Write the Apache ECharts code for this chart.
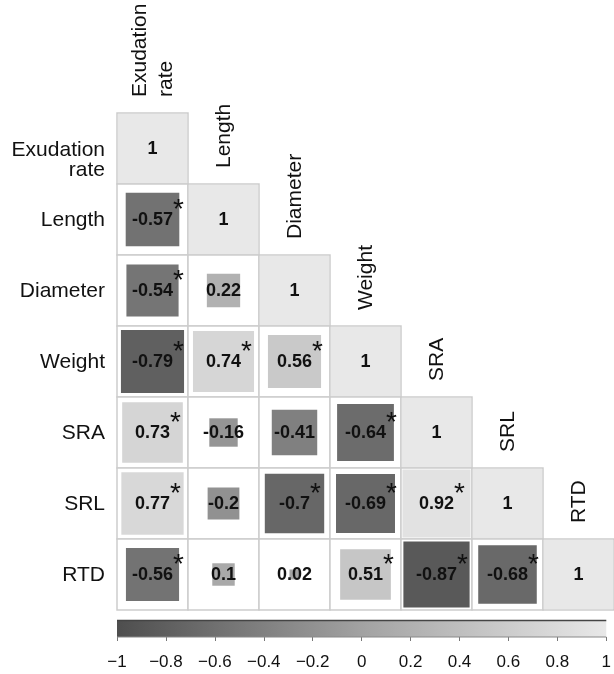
<!DOCTYPE html>
<html>
<head>
<meta charset="utf-8">
<script src="https://cdn.jsdelivr.net/npm/echarts@6/dist/echarts.min.js"></script>
<style>html,body{margin:0;padding:0;background:#fff;}#c{width:614px;height:674px;}</style>
</head>
<body>
<div id="c"></div>
<script>
// ---- data ----
const varNames = ['Exudation\nrate', 'Length', 'Diameter', 'Weight', 'SRA', 'SRL', 'RTD'];
// lower triangle correlations, row i has i+1 values (columns 0..i)
const corrRows = [
  [1],
  [-0.57, 1],
  [-0.54, 0.22, 1],
  [-0.79, 0.74, 0.56, 1],
  [0.73, -0.16, -0.41, -0.64, 1],
  [0.77, -0.2, -0.7, -0.69, 0.92, 1],
  [-0.56, 0.1, 0.02, 0.51, -0.87, -0.68, 1]
];
// significance flags (1 = asterisk)
const sigRows = [
  [0],
  [1, 0],
  [1, 0, 0],
  [1, 1, 1, 0],
  [1, 0, 0, 1, 0],
  [1, 0, 1, 1, 1, 0],
  [1, 0, 0, 1, 1, 1, 0]
];
const colorbarTicks = [-1, -0.8, -0.6, -0.4, -0.2, 0, 0.2, 0.4, 0.6, 0.8, 1];
const scaleColors = ['#4e4e4e', '#a2a2a2', '#e8e8e8'];

// ---- build ----
const cellData = [];
corrRows.forEach((row, i) => row.forEach((r, j) => cellData.push([j, i, r, sigRows[i][j]])));
const diagData = varNames.map((n, k) => [k, k]);
const rowLabelData = varNames.map((n, k) => [0, k]);

const FONT = 'Liberation Sans, Arial, Helvetica, sans-serif';

function fmt(v) { return String(v); }

const chart = echarts.init(document.getElementById('c'), null, { renderer: 'canvas' });
chart.setOption({
  animation: false,
  backgroundColor: '#fff',
  grid: [
    { left: 117, top: 113, width: 497, height: 497 },
    { left: 117, top: 620, width: 497, height: 17 }
  ],
  xAxis: [
    { type: 'category', gridIndex: 0, data: varNames, show: false },
    {
      type: 'value', gridIndex: 1, min: -1, max: 1, interval: 0.2,
      axisLine: { show: false }, splitLine: { show: false },
      axisTick: { show: true, length: 4, lineStyle: { color: '#777', width: 1 } },
      axisLabel: {
        showMinLabel: true, showMaxLabel: true, margin: 17,
        fontSize: 17, color: '#111', fontFamily: FONT,
        formatter: v => { const n = Number(v.toFixed(1)); return n < 0 ? '\u2212' + Math.abs(n) : String(n); }
      }
    }
  ],
  yAxis: [
    { type: 'category', gridIndex: 0, data: varNames, inverse: true, show: false },
    { type: 'value', gridIndex: 1, min: 0, max: 1, show: false }
  ],
  visualMap: {
    show: false, type: 'continuous', min: -1, max: 1, dimension: 2, seriesIndex: 0,
    inRange: { color: scaleColors }
  },
  series: [
    {
      type: 'custom', xAxisIndex: 0, yAxisIndex: 0,
      data: cellData,
      encode: { x: 0, y: 1 },
      renderItem: function (params, api) {
        const c = api.coord([api.value(0), api.value(1)]);
        const s = api.size([1, 1]);
        const w = s[0], h = s[1];
        const r = api.value(2);
        const sig = api.value(3);
        const side = Math.sqrt(Math.abs(r));
        const txt = fmt(r);
        const rich = sig
          ? '{p|*}{v|' + txt + '}{s|*}'
          : '{v|' + txt + '}';
        const inset = side === 1 ? 1 : 0;
        return {
          type: 'group',
          children: [
            { type: 'rect', shape: { x: c[0] - w / 2, y: c[1] - h / 2, width: w, height: h },
              style: { fill: '#fff', stroke: '#cdcdcd', lineWidth: 1.5 } },
            { type: 'rect', shape: { x: c[0] - w * side / 2 + inset, y: c[1] - h * side / 2 + inset,
                width: w * side - 2 * inset, height: h * side - 2 * inset },
              style: { fill: api.visual('color') } },
            { type: 'text', x: c[0], y: c[1] + 1,
              style: {
                text: rich, align: 'center', verticalAlign: 'middle',
                rich: {
                  v: { fontSize: 18, fontWeight: 'bold', fill: '#111', fontFamily: FONT },
                  p: { fontSize: 28, fill: 'rgba(0,0,0,0)', fontFamily: FONT, padding: [0, 0, 20, 0] },
                  s: { fontSize: 28, fill: '#111', fontFamily: FONT, padding: [0, 0, 20, 0] }
                }
              } }
          ]
        };
      },
      z: 2
    },
    {
      type: 'custom', xAxisIndex: 0, yAxisIndex: 0,
      data: diagData,
      encode: { x: 0, y: 1 },
      renderItem: function (params, api) {
        const k = api.value(0);
        const c = api.coord([k, k]);
        const s = api.size([1, 1]);
        return {
          type: 'text', x: c[0] + 1, y: c[1] - s[1] / 2 - 16, rotation: Math.PI / 2,
          style: { text: varNames[k], align: 'left', verticalAlign: 'middle',
            fontSize: 21, lineHeight: 26, fill: '#111', fontFamily: FONT }
        };
      },
      z: 3
    },
    {
      type: 'custom', xAxisIndex: 0, yAxisIndex: 0,
      data: rowLabelData,
      encode: { x: 0, y: 1 },
      renderItem: function (params, api) {
        const k = api.value(1);
        const c = api.coord([0, k]);
        const s = api.size([1, 1]);
        const multi = varNames[k].indexOf('\n') >= 0;
        return {
          type: 'text', x: c[0] - s[0] / 2 - 12, y: c[1] + 1 + (multi ? 11 : 0),
          style: { text: varNames[k], align: 'right', verticalAlign: 'middle',
            fontSize: 21, lineHeight: 20, fill: '#111', fontFamily: FONT }
        };
      },
      z: 3
    },
    {
      type: 'custom', xAxisIndex: 1, yAxisIndex: 1,
      data: [[colorbarTicks[0], 1, colorbarTicks[colorbarTicks.length - 1], 0]],
      renderItem: function (params, api) {
        const p0 = api.coord([api.value(0), api.value(1)]);
        const p1 = api.coord([api.value(2), api.value(3)]);
        return {
          type: 'group',
          children: [
            { type: 'rect', shape: { x: p0[0], y: p0[1], width: p1[0] - p0[0], height: p1[1] - p0[1] },
              style: { fill: new echarts.graphic.LinearGradient(0, 0, 1, 0, [
                { offset: 0, color: scaleColors[0] }, { offset: 0.5, color: scaleColors[1] }, { offset: 1, color: scaleColors[2] }
              ]) } },
            { type: 'line', shape: { x1: p0[0], y1: p0[1] + 0.5, x2: p1[0], y2: p0[1] + 0.5 },
              style: { stroke: '#444', lineWidth: 1.5 } },
            { type: 'line', shape: { x1: p0[0], y1: p1[1], x2: p1[0], y2: p1[1] },
              style: { stroke: '#888', lineWidth: 1 } }
          ]
        };
      }
    }
  ]
});
</script>
</body>
</html>
